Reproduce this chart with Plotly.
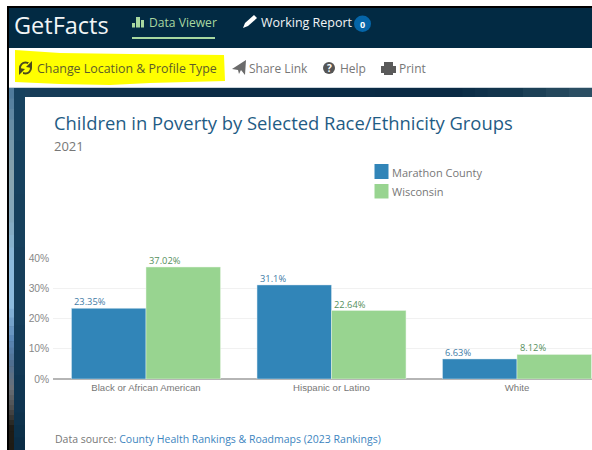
import plotly.graph_objects as go

W, H = 592, 450
categories = ["Black or African American", "Hispanic or Latino", "White"]
marathon = [23.35, 31.1, 6.63]
wisconsin = [37.02, 22.64, 8.12]
marathon_labels = ["23.35%", "31.1%", "6.63%"]
wisconsin_labels = ["37.02%", "22.64%", "8.12%"]
y_ticks = [0, 10, 20, 30, 40]
y_tick_labels = ["0%", "10%", "20%", "30%", "40%"]
series_names = ["Marathon County", "Wisconsin"]
BLUE, GREEN = "#3185b8", "#98d490"
UI = "Open Sans"


def px(x):
    return x / W


def py(y):
    return 1 - y / H


shapes, anns = [], []


def rect(x0, y0, x1, y1, color, layer="below"):
    shapes.append(dict(type="rect", xref="paper", yref="paper", x0=px(x0), x1=px(x1),
                       y0=py(y1), y1=py(y0), fillcolor=color, line_width=0, layer=layer))


def poly(points, color, layer="below", line=0):
    d = "M" + "L".join(f"{px(a):.5f},{py(b):.5f}" for a, b in points) + "Z"
    shapes.append(dict(type="path", xref="paper", yref="paper", path=d, fillcolor=color,
                       line=dict(width=line, color=color), layer=layer))


def text(x, y, s, size, color, anchor="left", family=UI, weight=None):
    anns.append(dict(xref="paper", yref="paper", x=px(x), y=py(y), text=s, showarrow=False,
                     xanchor=anchor, yanchor="middle", borderpad=0,
                     font=dict(size=size, color=color, family=family, weight=weight)))


def rgb(h):
    return [int(h[i:i + 2], 16) for i in (1, 3, 5)]


def gradient(stops, paint, n=4):
    for (a, c0), (b, c1) in zip(stops, stops[1:]):
        for k in range(n):
            t = k / n
            col = [round(u + (v - u) * t) for u, v in zip(rgb(c0), rgb(c1))]
            paint(a + (b - a) * t, a + (b - a) * (k + 1) / n + 0.6, "#%02x%02x%02x" % tuple(col))


# page chrome
rect(7, 6, W, H, "#000000")
rect(9, 8, W, 48, "#022a43")
rect(9, 48, W, 88, "#ffffff")
rect(9, 87, W, 88, "#c9d3da")
top_stops = [(9, "#2a5472"), (30, "#163c58"), (150, "#0b2c46"), (450, "#0a2a44"), (500, "#14384f"), (592, "#33566a")]
gradient(top_stops, lambda a, b, c: rect(a, 88, b, 97, c))
left_stops = [(88, "#4f7b9c"), (130, "#6f93a8"), (170, "#8aa5ae"), (210, "#83a8bc"), (260, "#8dbbdd"),
              (300, "#8dbbdd"), (335, "#5d8ab8"), (360, "#506f90"), (385, "#6a7078"), (405, "#4d4f50"),
              (425, "#1f1d18"), (450, "#1d1a14")]
gradient(left_stops, lambda a, b, c: rect(9, a, 14, b, c))
gradient([(88, "#17425f"), (300, "#153d59"), (400, "#0f3450"), (450, "#0a2b42")], lambda a, b, c: rect(14, a, 25, b, c))
rect(25, 97, W, H, "#ffffff")

# nav bar
text(12.5, 25, "GetFacts", 23.5, "#f2f5f6")
for x0, y0, x1 in [(132, 23, 135), (136, 17, 140), (141, 20, 144)]:
    rect(x0, y0, x1, 27.5, "#a8d8a0")
text(147.5, 22.5, "Data Viewer", 12.1, "#a8d8a0")
rect(132, 37, 215, 39, "#a8d8a0")
poly([(243, 28), (245, 23), (254, 15), (257, 18), (248, 26)], "#ffffff")
text(259.5, 22.5, "Working Report", 12.5, "#f2f5f6")
shapes.append(dict(type="circle", xref="paper", yref="paper", x0=px(354), x1=px(371), y0=py(32),
                   y1=py(15.5), fillcolor="#0565a8", line_width=0, layer="below"))
text(362.5, 24, "0", 9, "#ffffff", "center", weight="bold")

# toolbar
poly([(15, 50), (60, 53), (130, 54), (224, 55), (225, 81), (150, 83), (110, 85), (60, 84), (15, 82)], "#ffff00")
shapes.append(dict(type="circle", xref="paper", yref="paper", x0=px(20), x1=px(31), y0=py(73.5), y1=py(62.5),
                   fillcolor="rgba(0,0,0,0)", line=dict(color="#4b4b1e", width=2), layer="below"))
rect(28, 63, 33, 67, "#ffff00")
rect(18, 69, 23, 74, "#ffff00")
poly([(32, 61), (32, 68), (26, 67)], "#4b4b1e")
poly([(19, 75), (19, 68), (25, 69)], "#4b4b1e")
text(35.5, 68.5, "Change Location & Profile Type", 12.4, "#5c5c2a")
poly([(232, 69), (246, 60), (245, 75), (241, 70), (239, 74), (238, 70)], "#6b6b6b")
text(247.5, 68.5, "Share Link", 12, "#777777")
shapes.append(dict(type="circle", xref="paper", yref="paper", x0=px(323), x1=px(335), y0=py(74),
                   y1=py(62), fillcolor="#555555", line_width=0, layer="below"))
text(329, 68, "?", 10, "#ffffff", "center", weight="bold")
text(338.5, 68.5, "Help", 12, "#777777")
rect(381, 66, 396, 73, "#5a5a5a")
rect(384, 62, 393, 66, "#5a5a5a")
rect(384, 72, 393, 75, "#5a5a5a")
text(397.5, 68.5, "Print", 12, "#777777")

# card text
text(53, 123, "Children in Poverty by Selected Race/Ethnicity Groups", 18.4, "#1f5c85")
text(53, 146, "2021", 13, "#777777")
rect(374.5, 164, 388.5, 179, BLUE)
rect(374.5, 184, 388.5, 198.5, GREEN)
text(390.5, 172.5, series_names[0], 11, "#777777")
text(390.5, 191.5, series_names[1], 11, "#777777")
anns.append(dict(xref="paper", yref="paper", x=px(53.5), y=py(439), showarrow=False, xanchor="left",
                 yanchor="middle", borderpad=0,
                 text='<span style="color:#777777">Data source: </span>County Health Rankings &amp; Roadmaps (2023 Rankings)',
                 font=dict(size=10.5, color="#3d85c0", family=UI)))

# value labels, left aligned on each bar
for c, v, s in zip(categories, marathon, marathon_labels):
    anns.append(dict(x=c, y=v, xref="x", yref="y", text=s, showarrow=False, xanchor="left", yanchor="bottom",
                     xshift=-73, yshift=-1, borderpad=0, font=dict(size=9.3, color="#3f7ca6", family="Open Sans", weight=500)))
for c, v, s in zip(categories, wisconsin, wisconsin_labels):
    anns.append(dict(x=c, y=v, xref="x", yref="y", text=s, showarrow=False, xanchor="left", yanchor="bottom",
                     xshift=1.5, yshift=-1, borderpad=0, font=dict(size=9.3, color="#558f5c", family="Open Sans", weight=500)))

fig = go.Figure()
fig.add_bar(name=series_names[0], x=categories, y=marathon, marker=dict(color=BLUE, line=dict(color="#d8e8f0", width=0.5)))
fig.add_bar(name=series_names[1], x=categories, y=wisconsin, marker=dict(color=GREEN, line=dict(color="#e8f5e6", width=0.5)))

step = 185.5
left = 146 - step / 2
fig.update_layout(
    width=W, height=H, autosize=False, barmode="group", bargap=0.197, bargroupgap=0,
    margin=dict(l=0, r=0, t=0, b=0), paper_bgcolor="#ffffff", plot_bgcolor="rgba(0,0,0,0)",
    showlegend=False, shapes=shapes, annotations=anns,
    xaxis=dict(domain=[px(left), 1], type="category", range=[-0.5, -0.5 + (W - left) / step], showgrid=False,
               automargin=False, zeroline=False, showline=False, ticks="", ticklabelstandoff=1,
               tickfont=dict(size=9.6, color="#777777", family="Liberation Sans")),
    yaxis=dict(domain=[py(379), py(258)], range=[0, 40], tickvals=y_ticks, ticktext=y_tick_labels,
               automargin=False, gridcolor="#f1f1f1", gridwidth=1, zeroline=True, zerolinecolor="#b5b5b5", zerolinewidth=2,
               showline=False, ticks="", ticklabelstandoff=3,
               tickfont=dict(size=10.3, color="#888888", family="Liberation Sans")),
    font=dict(family="Liberation Sans"),
)
fig.write_html("out.html", config=dict(displayModeBar=False),
               post_script="document.documentElement.style.overflow='hidden';document.body.style.margin='0';document.body.style.padding='0';")
